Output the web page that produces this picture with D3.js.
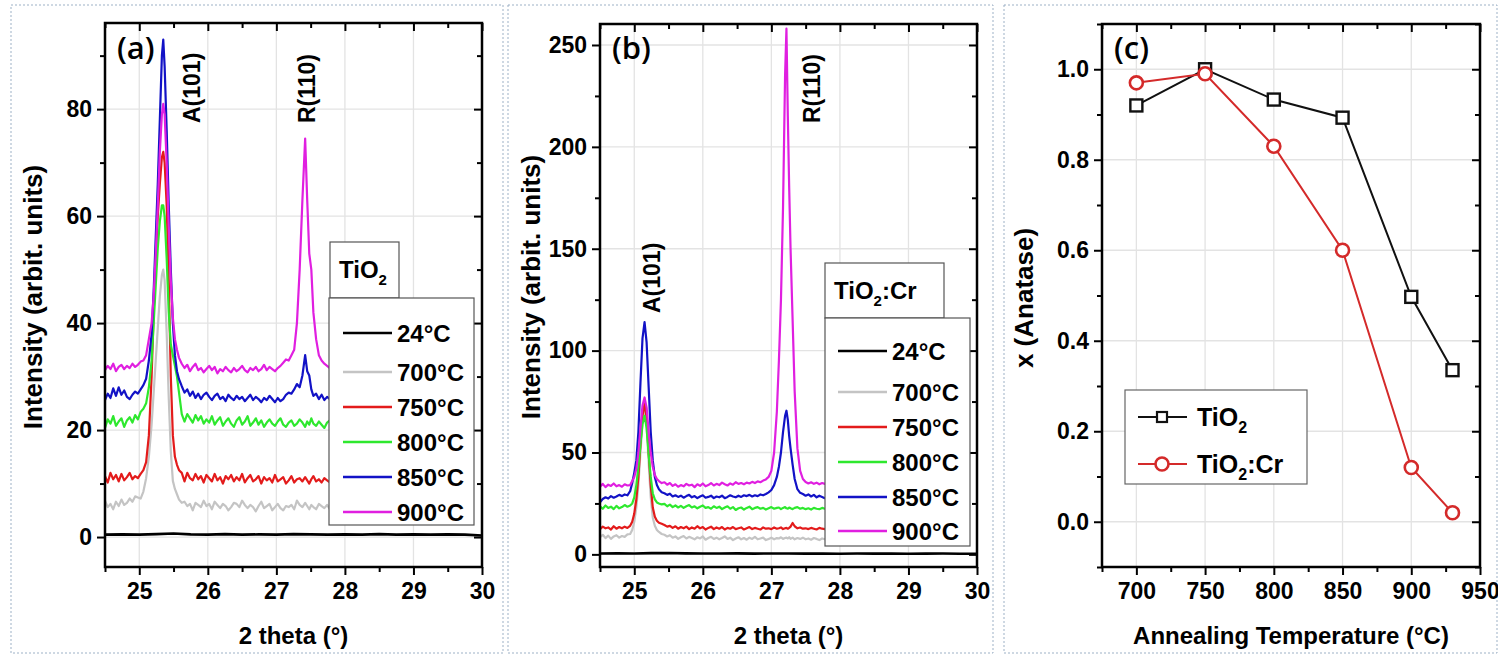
<!DOCTYPE html>
<html>
<head>
<meta charset="utf-8">
<script src="https://cdn.jsdelivr.net/npm/d3@7"></script>
<style>
body { margin: 0; background: #fff; }
svg text { font-family: "Liberation Sans", Arial, sans-serif; font-weight: bold; }
</style>
</head>
<body>
<div id="chart"></div>
<script>
// ---- legend labels / colours ----
var tempLabels = ["24°C", "700°C", "750°C", "800°C", "850°C", "900°C"];
var tempColors = ["#000000", "#c4c4c4", "#e31b1b", "#2ee82e", "#1212c6", "#e01fe0"];

// ---- (a) TiO2 XRD ----
var tthA = [24.50,24.54,24.58,24.62,24.66,24.70,24.74,24.78,24.82,24.86,24.90,24.94,24.98,25.02,25.06,25.10,25.14,25.18,
  25.21,25.24,25.27,25.30,25.33,25.35,25.37,25.40,25.43,25.46,25.49,25.52,25.55,25.58,
  25.62,25.66,25.70,25.74,25.78,25.82,25.86,25.90,25.94,25.98,26.02,26.06,26.10,26.14,26.18,26.22,26.26,26.30,26.34,26.38,
  26.42,26.46,26.50,26.54,26.58,26.62,26.66,26.70,26.74,26.78,26.82,26.86,26.90,26.94,26.98,27.02,27.06,27.10,27.14,27.18,
  27.22,27.26,27.30,27.34,27.38,27.42,27.45,27.48,27.51,27.54,27.58,27.62,27.66,27.70,27.74,27.78,27.82,27.86,27.90];
var a700 = [6.8,5.6,6.2,5.2,6.6,5.8,7.0,6.0,6.4,7.2,6.6,7.6,7.4,7.2,8.5,11,15,21,
  27,33,39,45,49,50,48,38,26,16,10.5,9,8,7,
  6.4,6.6,5.8,6.2,5.0,6.4,6.0,5.6,6.8,5.8, 6.2,5.2,6.6,6.0,5.4,6.2,5.8,5.0,5.6,6.4, 6.2,5.6,6.8,6.0,5.4,6.0,5.6,4.8,5.8,6.6,
  5.4,5.8,6.2,5.0,5.6,6.2,5.4,5.0,5.8,5.6, 6.0,5.2,6.8,6.0,5.6,6.4,5.8,5.2,6.0,5.6, 5.2,6.2,5.8,5.4,6.0,5.2,5.8,5.4,5.6];
var a750 = [11.4,10.2,12.0,10.8,11.6,10.4,11.8,10.6,11.2,12.0,10.8,11.4,11.0,11.8,12.5,14,19,30,
  42,52,60,66,71,72,70,62,48,30,19,15,13.5,12.5,
  12.0,10.4,12.0,11.0,10.6,11.8,10.8,11.4,10.2,11.6, 11.0,10.4,11.8,10.6,11.2,10.0,11.4,10.8,11.6,10.4, 11.2,10.6,11.8,10.2,11.0,11.6,10.4,10.8,11.4,10.0,
  11.2,10.6,11.0,10.2,11.6,10.4,10.8,11.2,10.0,10.6, 11.4,10.2,10.8,11.0,10.4,11.2,10.6,10.0,10.8,11.4, 10.4,10.8,10.2,11.0,10.6,10.2,11.2,12.0,11.4];
var a800 = [20.4,22.0,21.2,22.6,20.8,21.6,22.2,20.6,21.8,22.4,21.4,22.8,22.0,23.4,24.0,25,28,33,
  40,47,54,59,62,62,60,52,42,36,34,32,30,27,
  23.0,21.6,23.0,22.2,21.4,22.8,21.8,22.6,21.2,22.0, 21.4,22.6,21.0,21.8,22.4,20.8,21.6,22.2,21.2,20.6, 21.8,22.4,21.0,21.6,22.6,20.8,21.4,22.2,21.0,21.8,
  20.6,21.4,22.0,21.2,20.8,21.6,22.2,21.0,20.6,21.4, 21.8,20.8,21.2,22.0,21.4,20.6,21.6,21.0,22.2,21.2, 20.8,21.6,21.0,20.4,21.4,21.8,20.6,21.2,20.8];
var a850 = [25.6,26.8,26.0,27.8,26.4,28.0,26.6,27.4,26.2,25.8,26.6,27.2,26.8,27.6,28.4,29.6,33,38,
  46,56,66,78,90,93,88,76,62,50,40,34,31,29.5,
  28.2,27.0,27.6,26.4,27.2,26.0,26.8,25.8,26.6,27.0, 26.2,25.6,26.4,26.8,25.8,26.2,25.4,26.6,26.0,25.6, 26.4,25.8,26.2,25.4,26.0,26.6,25.6,26.2,25.8,25.2,
  26.0,25.6,26.4,25.8,25.2,26.0,25.4,25.8,26.6,27.0,
  26.8,27.6,28.6,28.0,30.2,34.0,31.0,30.2,27.6,26.4,26.8,25.8,26.6,25.6,26.2,25.8,26.4,25.6,26.0];
var a900 = [31.2,32.0,31.4,32.4,31.0,31.8,32.2,31.4,32.0,31.6,32.4,31.8,32.2,32.8,33.0,34,37,40,
  45,53,62,72,79,81,79,70,58,48,41,37,35,33.5,
  32.4,31.6,32.2,31.0,31.8,32.4,31.2,31.6,30.8,31.4, 32.0,31.2,31.8,30.6,31.4,31.0,31.8,31.2,30.8,31.6, 31.0,31.4,32.0,31.2,30.8,31.6,31.2,31.8,31.0,31.4,
  32.2,31.2,31.8,31.4,31.0,31.6,32.0,32.6,33.2,33.0,
  34,35,40,50,63,74.5,63,53,50,42,37,34,33,32.4,32,31.6,31.8,31.4,31.6];

// 24°C curves are flat, sampled coarsely over the full range
var tth24 = [24.5,24.75,25,25.25,25.5,25.75,26,26.25,26.5,26.75,27,27.25,27.5,27.75,28,28.25,28.5,28.75,29,29.25,29.5,29.75,30];
var a24 = [0.45,0.5,0.45,0.55,0.65,0.5,0.45,0.55,0.45,0.5,0.45,0.55,0.5,0.45,0.5,0.45,0.55,0.45,0.5,0.45,0.5,0.45,0.3];

// ---- (b) TiO2:Cr XRD ----
var tthB = [24.50,24.54,24.58,24.62,24.66,24.70,24.74,24.78,24.82,24.86,24.90,24.94,
  24.97,25.00,25.03,25.06,25.09,25.12,25.15,25.18,25.21,25.24,25.27,25.30,25.33,25.36,25.40,
  25.44,25.48,25.52,25.56,25.60,25.64,25.68,25.72,25.76,25.80,25.84,25.88,25.92,25.96,26.00,26.04,26.08,26.12,26.16,26.20,
  26.24,26.28,26.32,26.36,26.40,26.44,26.48,26.52,26.56,26.60,26.64,26.68,26.72,26.76,26.80,26.84,26.88,26.92,
  26.96,27.00,27.04,27.08,27.11,27.14,27.17,27.20,27.22,27.24,27.26,27.28,27.31,27.34,27.38,27.42,27.46,27.50,
  27.54,27.58,27.62,27.66,27.70,27.74,27.78,27.82,27.86,27.90];
var b700 = [8.4,9.6,8.0,9.2,7.6,8.8,9.4,8.2,9.0,8.6,9.8,10,
  12,16,23,34,50,64,70,63,45,28,18,14,12,11,10,
  9.6,8.8,9.4,8.2,8.8,7.6,8.4,9.0,7.8,8.6, 8.0,7.4,8.4,7.8,8.8,7.2,8.0,8.6,7.6,8.2, 7.4,8.0,8.8,7.6,8.2,7.0,7.8,8.4,7.4,8.0, 7.2,8.2,7.6,8.6,7.4,7.8,8.2,7.0,
  7.6,8.2,7.4,8.0,7.8,8.4,7.6,8.0,8.2,7.8,8.4,7.6,8.2,7.4,8.0,7.6,8.2,7.4,
  7.8,7.2,8.0,7.6,7.0,7.8,7.4,8.2,7.2,7.6];
var b750 = [12.4,13.6,12.8,13.2,12.2,13.8,12.6,13.4,12.8,13.6,13.0,14,
  16,20,27,38,54,68,74,67,50,34,23,18.5,16.5,15.5,15,
  14.4,13.6,14.0,13.0,13.8,12.6,13.4,12.8,13.6,12.4, 13.2,12.6,13.8,12.8,13.4,12.2,13.0,13.6,12.4,13.2, 12.6,13.4,12.2,13.0,12.6,13.4,12.4,12.8,13.2,12.2, 12.8,13.4,12.4,13.0,12.6,12.2,13.2,12.6,
  12.8,12.4,13.2,12.6,12.8,13.2,12.4,12.8,13.0,12.6,13.0,13.6,15.4,13.8,12.8,13.2,12.6,12.8,
  12.4,13.0,12.6,12.2,13.0,12.6,12.4,13.0,12.6,12.8];
var b800 = [23.6,22.4,24.0,22.8,23.4,22.2,23.8,22.6,23.2,24.2,23.4,24.0,
  25,28,34,43,54,64,68,62,49,38,30,27,25.5,25,24.5,
  24.8,23.6,24.4,23.2,24.0,23.0,23.8,22.8,23.6,24.2, 23.0,23.6,22.6,23.4,24.0,22.8,23.2,22.4,23.6,22.8, 23.4,22.2,23.0,23.6,22.4,23.2,21.8,22.6,23.0,22.0, 22.8,23.4,22.2,22.8,23.2,22.4,22.8,22.0,
  22.6,23.2,22.4,22.8,23.0,22.2,22.8,23.2,22.6,22.4,23.0,22.6,22.2,22.8,23.2,22.4,22.8,22.2,
  22.6,22.0,22.8,22.4,22.2,22.8,22.4,22.0,22.6,22.4];
var b850 = [25.6,27.2,28.0,27.4,28.6,27.8,28.4,29.2,28.6,29.4,29.0,31,
  35,40,46,60,84,106,114,104,82,60,46,38,34,32,30.5,
  30.0,29.2,29.8,28.4,29.0,28.2,28.8,27.8,28.6,29.2, 28.0,28.6,27.6,28.4,29.0,27.8,28.2,28.8,27.6,28.4, 28.0,28.8,27.6,28.2,29.0,28.4,28.0,28.8,28.2,29.0, 28.6,29.2,28.4,29.0,28.6,29.4,29.0,29.6,
  30.4,31.6,34,38,43,50,60,68,70.5,66,58,52,44,37,32,30.2,29.6,28.8,
  29.4,28.4,29.2,28.0,28.8,28.2,27.6,28.6,28.0,28.4];
var b900 = [33.2,34.6,33.0,34.2,33.6,34.8,33.4,34.0,33.2,34.4,33.8,34.0,
  36,38,42,50,62,73,77,72,60,50,43,39,37,36,35,
  35.4,34.2,35.0,33.6,34.4,33.2,34.0,33.4,34.6,33.8, 34.2,33.0,34.4,33.6,34.8,33.4,34.0,35.0,33.8,34.6, 34.0,35.2,34.4,33.8,34.8,34.2,35.4,34.6,35.0,34.4, 35.2,34.8,35.6,35.0,35.8,35.4,36.2,36.8,
  38,41,50,70,95,125,170,235,258,215,180,150,115,80,52,41,37,35.5,
  34.8,35.4,34.6,35.2,34.4,35.0,34.6,35.2,34.4,34.8];
var b24 = [0.4,0.5,0.4,0.6,0.7,0.5,0.45,0.4,0.5,0.35,0.45,0.4,0.35,0.45,0.3,0.4,0.35,0.45,0.3,0.35,0.4,0.3,0.3];

// ---- (c) anatase fraction ----
var annealT = [700, 750, 800, 850, 900, 930];
var xTiO2   = [0.92, 1.00, 0.933, 0.893, 0.497, 0.335];
var xTiO2Cr = [0.97, 0.99, 0.83, 0.60, 0.12, 0.02];

// ---- ticks ----
var xrdTicks = [25, 26, 27, 28, 29, 30];
var xrdMinor = [24.5, 25.5, 26.5, 27.5, 28.5, 29.5];
var aYTicks = [0, 20, 40, 60, 80];
var aYMinor = [10, 30, 50, 70, 90];
var bYTicks = [0, 50, 100, 150, 200, 250];
var bYMinor = [25, 75, 125, 175, 225];
var cXTicks = [700, 750, 800, 850, 900, 950];
var cXMinor = [675, 725, 775, 825, 875, 925];
var cYTicks = [0, 0.2, 0.4, 0.6, 0.8, 1.0];
var cYMinor = [-0.1, 0.1, 0.3, 0.5, 0.7, 0.9, 1.1];

var W = 1498, H = 656;
var svg = d3.select('#chart').append('svg')
    .attr('width', W)
    .attr('height', H);

// dotted panel frames
[[11, 503], [508, 993], [1004, 1497]].forEach(function(f){
    svg.append('rect')
        .attr('x', f[0]).attr('y', 5)
        .attr('width', f[1] - f[0]).attr('height', H - 8)
        .attr('fill', 'none')
        .attr('stroke', '#9db1c6')
        .attr('stroke-width', 1)
        .attr('stroke-dasharray', '2,2');
});

function makePanel(p){
    var g = svg.append('g');
    var x = d3.scaleLinear().domain(p.xDomain).range([p.x0, p.x1]);
    var y = d3.scaleLinear().domain(p.yDomain).range([p.y1, p.y0]);

    // light grid at major ticks
    g.append('g').selectAll('line')
        .data(p.xTicks.filter(function(d){ return x(d) > p.x0 + 2 && x(d) < p.x1 - 2; }))
        .enter().append('line')
        .attr('x1', function(d){ return x(d); }).attr('x2', function(d){ return x(d); })
        .attr('y1', p.y0).attr('y2', p.y1)
        .attr('stroke', '#e3e3e3').attr('stroke-width', 1.3);
    g.append('g').selectAll('line')
        .data(p.yTicks.filter(function(d){ return y(d) > p.y0 + 2 && y(d) < p.y1 - 2; }))
        .enter().append('line')
        .attr('y1', function(d){ return y(d); }).attr('y2', function(d){ return y(d); })
        .attr('x1', p.x0).attr('x2', p.x1)
        .attr('stroke', '#e3e3e3').attr('stroke-width', 1.3);

    svg.append('clipPath').attr('id', 'clip-' + p.name)
        .append('rect')
        .attr('x', p.x0).attr('y', p.y0)
        .attr('width', p.x1 - p.x0).attr('height', p.y1 - p.y0);
    var plot = g.append('g').attr('clip-path', 'url(#clip-' + p.name + ')');

    function styleAxis(sel){
        sel.select('.domain').remove();
        sel.selectAll('line').attr('stroke', '#000').attr('stroke-width', 2);
        sel.attr('font-size', 23);
        sel.selectAll('text').attr('fill', '#000');
    }
    // bottom
    g.append('g').attr('transform', 'translate(0,' + p.y1 + ')')
        .call(d3.axisBottom(x).tickValues(p.xTicks).tickSize(8).tickPadding(8).tickFormat(p.xFormat))
        .call(styleAxis);
    g.append('g').attr('transform', 'translate(0,' + p.y1 + ')')
        .call(d3.axisBottom(x).tickValues(p.xMinor).tickSize(5).tickFormat(''))
        .call(styleAxis);
    // top (inward)
    g.append('g').attr('transform', 'translate(0,' + p.y0 + ')')
        .call(d3.axisTop(x).tickValues(p.xTicks).tickSize(-8).tickFormat(''))
        .call(styleAxis);
    g.append('g').attr('transform', 'translate(0,' + p.y0 + ')')
        .call(d3.axisTop(x).tickValues(p.xMinor).tickSize(-5).tickFormat(''))
        .call(styleAxis);
    // left
    g.append('g').attr('transform', 'translate(' + p.x0 + ',0)')
        .call(d3.axisLeft(y).tickValues(p.yTicks).tickSize(8).tickPadding(5).tickFormat(p.yFormat))
        .call(styleAxis);
    g.append('g').attr('transform', 'translate(' + p.x0 + ',0)')
        .call(d3.axisLeft(y).tickValues(p.yMinor).tickSize(5).tickFormat(''))
        .call(styleAxis);
    // right (inward)
    g.append('g').attr('transform', 'translate(' + p.x1 + ',0)')
        .call(d3.axisRight(y).tickValues(p.yTicks).tickSize(-8).tickFormat(''))
        .call(styleAxis);
    g.append('g').attr('transform', 'translate(' + p.x1 + ',0)')
        .call(d3.axisRight(y).tickValues(p.yMinor).tickSize(-5).tickFormat(''))
        .call(styleAxis);

    // axis titles
    g.append('text')
        .attr('x', (p.x0 + p.x1) / 2).attr('y', 644)
        .attr('text-anchor', 'middle').attr('font-size', 24)
        .text(p.xTitle);
    g.append('text')
        .attr('transform', 'translate(' + p.yTitleX + ',' + p.yTitleY + ') rotate(-90)')
        .attr('text-anchor', 'middle').attr('font-size', 26)
        .text(p.yTitle);

    // panel tag
    g.append('text')
        .attr('x', p.x0 + 12).attr('y', 59)
        .attr('font-size', 31)
        .style('font-family', '"Open Sans", sans-serif')
        .style('font-weight', 600)
        .text(p.tag);

    return { g: g, x: x, y: y, plot: plot, frame: function(){
        g.append('rect')
            .attr('x', p.x0).attr('y', p.y0)
            .attr('width', p.x1 - p.x0).attr('height', p.y1 - p.y0)
            .attr('fill', 'none').attr('stroke', '#000').attr('stroke-width', 2.5);
    }};
}

function drawXRD(panel, series){
    var line = d3.line()
        .x(function(d){ return panel.x(d[0]); })
        .y(function(d){ return panel.y(d[1]); });
    series.forEach(function(s, i){
        var pts = s.tth.map(function(t, k){ return [t, s.vals[k]]; });
        panel.plot.append('path')
            .attr('d', line(pts))
            .attr('fill', 'none')
            .attr('stroke', tempColors[i])
            .attr('stroke-width', i === 0 ? 2.6 : 2.2)
            .attr('stroke-linejoin', 'round');
    });
}

function peakLabel(g, x, y, txt){
    g.append('text')
        .attr('transform', 'translate(' + x + ',' + y + ') rotate(-90)')
        .attr('font-size', 23)
        .text(txt);
}

function titleBox(g, x, y, w, h, main, suffix){
    g.append('rect').attr('x', x).attr('y', y).attr('width', w).attr('height', h)
        .attr('fill', '#fff').attr('stroke', '#555').attr('stroke-width', 1.2);
    var t = g.append('text').attr('x', x + 9).attr('y', y + 36).attr('font-size', 24);
    t.append('tspan').text(main);
    t.append('tspan').attr('font-size', 15).attr('dy', 7).text('2');
    if (suffix) t.append('tspan').attr('dy', -7).text(suffix);
}

function tempLegend(g, bx, by, bw, bh, lx, ys){
    g.append('rect').attr('x', bx).attr('y', by).attr('width', bw).attr('height', bh)
        .attr('fill', '#fff').attr('stroke', '#555').attr('stroke-width', 1.2);
    tempLabels.forEach(function(lab, i){
        g.append('line')
            .attr('x1', lx).attr('x2', lx + 49)
            .attr('y1', ys[i]).attr('y2', ys[i])
            .attr('stroke', tempColors[i]).attr('stroke-width', 2.6);
        g.append('text')
            .attr('x', lx + 54).attr('y', ys[i] + 9)
            .attr('font-size', 24)
            .text(lab);
    });
}

// ---------- panel (a) ----------
var pa = makePanel({
    name: 'a', x0: 105, x1: 482, y0: 23, y1: 567,
    xDomain: [24.5, 30], yDomain: [-5.6, 96.1],
    xTicks: xrdTicks, xMinor: xrdMinor, yTicks: aYTicks, yMinor: aYMinor,
    xFormat: d3.format('d'), yFormat: d3.format('d'),
    xTitle: '2 theta (°)', yTitle: 'Intensity (arbit. units)',
    yTitleX: 42, yTitleY: 297, tag: '(a)'
});
drawXRD(pa, [
    { tth: tth24, vals: a24 },
    { tth: tthA, vals: a700 },
    { tth: tthA, vals: a750 },
    { tth: tthA, vals: a800 },
    { tth: tthA, vals: a850 },
    { tth: tthA, vals: a900 }
]);
pa.frame();
peakLabel(pa.g, 200, 123, 'A(101)');
peakLabel(pa.g, 315, 123, 'R(110)');
titleBox(pa.g, 330, 242, 69, 56, 'TiO', null);
tempLegend(pa.g, 329, 298, 145, 227, 343, [333, 372, 407, 442, 477, 512]);

// ---------- panel (b) ----------
var pb = makePanel({
    name: 'b', x0: 600, x1: 977, y0: 24, y1: 567,
    xDomain: [24.5, 30], yDomain: [-6.2, 260.3],
    xTicks: xrdTicks, xMinor: xrdMinor, yTicks: bYTicks, yMinor: bYMinor,
    xFormat: d3.format('d'), yFormat: d3.format('d'),
    xTitle: '2 theta (°)', yTitle: 'Intensity (arbit. units)',
    yTitleX: 540, yTitleY: 287, tag: '(b)'
});
drawXRD(pb, [
    { tth: tth24, vals: b24 },
    { tth: tthB, vals: b700 },
    { tth: tthB, vals: b750 },
    { tth: tthB, vals: b800 },
    { tth: tthB, vals: b850 },
    { tth: tthB, vals: b900 }
]);
pb.frame();
peakLabel(pb.g, 660, 313, 'A(101)');
peakLabel(pb.g, 820, 123, 'R(110)');
titleBox(pb.g, 825, 263, 119, 55, 'TiO', ':Cr');
tempLegend(pb.g, 825, 318, 145, 228, 838, [351, 392, 427, 462, 497, 531]);

// ---------- panel (c) ----------
var pc = makePanel({
    name: 'c', x0: 1102, x1: 1480, y0: 24, y1: 567,
    xDomain: [675, 950], yDomain: [-0.1, 1.1],
    xTicks: cXTicks, xMinor: cXMinor, yTicks: cYTicks, yMinor: cYMinor,
    xFormat: d3.format('d'), yFormat: d3.format('.1f'),
    xTitle: 'Annealing Temperature (°C)', yTitle: 'x (Anatase)',
    yTitleX: 1033, yTitleY: 298, tag: '(c)'
});
var black = '#111', red = '#d42a2a';
var cLine = d3.line()
    .x(function(d){ return pc.x(d[0]); })
    .y(function(d){ return pc.y(d[1]); });
var ptsTi = annealT.map(function(t, i){ return [t, xTiO2[i]]; });
var ptsCr = annealT.map(function(t, i){ return [t, xTiO2Cr[i]]; });
pc.plot.append('path').attr('d', cLine(ptsTi)).attr('fill', 'none').attr('stroke', black).attr('stroke-width', 2);
pc.plot.append('path').attr('d', cLine(ptsCr)).attr('fill', 'none').attr('stroke', red).attr('stroke-width', 2);
pc.plot.selectAll('rect.sq').data(ptsTi).enter().append('rect')
    .attr('class', 'sq')
    .attr('x', function(d){ return pc.x(d[0]) - 6; })
    .attr('y', function(d){ return pc.y(d[1]) - 6; })
    .attr('width', 12).attr('height', 12)
    .attr('fill', '#fff').attr('stroke', black).attr('stroke-width', 2.4);
pc.plot.selectAll('circle.ci').data(ptsCr).enter().append('circle')
    .attr('class', 'ci')
    .attr('cx', function(d){ return pc.x(d[0]); })
    .attr('cy', function(d){ return pc.y(d[1]); })
    .attr('r', 6.5)
    .attr('fill', '#fff').attr('stroke', red).attr('stroke-width', 2.6);
pc.frame();

// legend (c)
var lg = pc.g.append('g');
lg.append('rect').attr('x', 1125).attr('y', 390).attr('width', 182).attr('height', 94)
    .attr('fill', '#fff').attr('stroke', '#666').attr('stroke-width', 1.2);
[[417, black, 'sq', null], [464, red, 'ci', ':Cr']].forEach(function(e){
    lg.append('line').attr('x1', 1138).attr('x2', 1187).attr('y1', e[0]).attr('y2', e[0])
        .attr('stroke', e[1]).attr('stroke-width', 2);
    if (e[2] === 'sq') {
        lg.append('rect').attr('x', 1157).attr('y', e[0] - 5).attr('width', 10).attr('height', 10)
            .attr('fill', '#fff').attr('stroke', e[1]).attr('stroke-width', 2.2);
    } else {
        lg.append('circle').attr('cx', 1162).attr('cy', e[0]).attr('r', 6.5)
            .attr('fill', '#fff').attr('stroke', e[1]).attr('stroke-width', 2.6);
    }
    var t = lg.append('text').attr('x', 1197).attr('y', e[0] + 9).attr('font-size', 25);
    t.append('tspan').text('TiO');
    t.append('tspan').attr('font-size', 16).attr('dy', 7).text('2');
    if (e[3]) t.append('tspan').attr('dy', -7).text(e[3]);
});
</script>
</body>
</html>
